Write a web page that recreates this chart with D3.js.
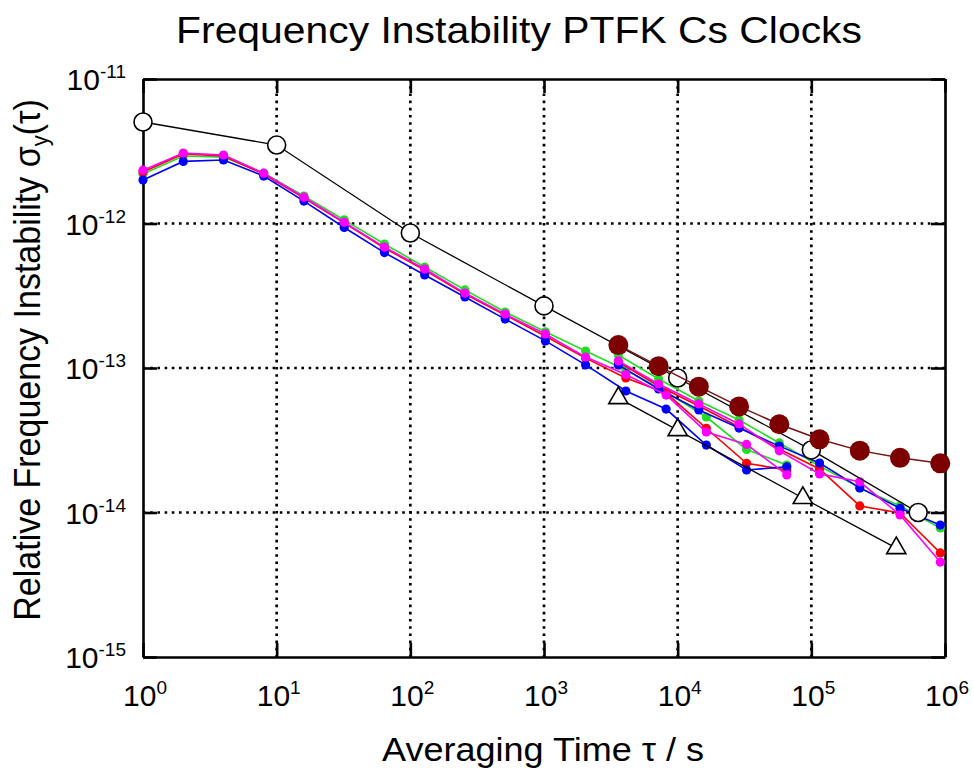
<!DOCTYPE html>
<html>
<head>
<meta charset="utf-8">
<script src="https://cdn.jsdelivr.net/npm/d3@7"></script>
<style>
html,body{margin:0;padding:0;background:#fff;}
svg{display:block;}
text{font-family:"Liberation Sans",Arial,sans-serif;fill:#000;}
</style>
</head>
<body>
<svg id="chart" width="973" height="777"></svg>
<script>
// ---------- DATA ----------
const xTicks = [1, 10, 100, 1000, 10000, 100000, 1000000];
const xTickExp = ["0", "1", "2", "3", "4", "5", "6"];
const yTicks = [1e-11, 1e-12, 1e-13, 1e-14, 1e-15];
const yTickExp = ["-11", "-12", "-13", "-14", "-15"];

// averaging times, short-term runs (powers of two)
const tauShort = [1, 2, 4, 8, 16, 32, 64, 128, 256, 512, 1024, 2048, 4096, 8192, 16384, 32768, 65536];
// averaging times, long-term runs (hourly data)
const tauLong = [3600, 7200, 14400, 28800, 57600, 115200, 230400, 460800, 921600];

const greenShort   = [2.20e-12, 2.93e-12, 2.88e-12, 2.23e-12, 1.55e-12, 1.06e-12, 7.21e-13, 5.00e-13, 3.47e-13, 2.44e-13, 1.78e-13, 1.31e-13, 9.68e-14, 6.82e-14, 4.58e-14, 2.73e-14, 2.13e-14];
const redShort     = [2.27e-12, 3.03e-12, 2.93e-12, 2.20e-12, 1.50e-12, 1.01e-12, 6.76e-13, 4.76e-13, 3.25e-13, 2.33e-13, 1.66e-13, 1.17e-13, 8.53e-14, 6.71e-14, 3.83e-14, 2.19e-14, 1.97e-14];
const blueShort    = [2.00e-12, 2.69e-12, 2.75e-12, 2.13e-12, 1.43e-12, 9.38e-13, 6.29e-13, 4.40e-13, 3.10e-13, 2.18e-13, 1.54e-13, 1.05e-13, 6.93e-14, 5.20e-14, 2.93e-14, 1.97e-14, 2.07e-14];
const magentaShort = [2.34e-12, 3.07e-12, 2.98e-12, 2.23e-12, 1.52e-12, 1.02e-12, 6.87e-13, 4.84e-13, 3.30e-13, 2.36e-13, 1.72e-13, 1.19e-13, 9.01e-14, 6.50e-14, 3.61e-14, 2.96e-14, 1.82e-14];

const greenLong   = [1.23e-13, 8.40e-14, 5.91e-14, 4.37e-14, 3.03e-14, 2.10e-14, 1.48e-14, 1.11e-14, 7.82e-15];
const redLong     = [1.10e-13, 7.50e-14, 5.46e-14, 3.91e-14, 2.75e-14, 2.00e-14, 1.11e-14, 9.93e-15, 5.25e-15];
const blueLong    = [1.05e-13, 7.16e-14, 5.12e-14, 3.84e-14, 2.88e-14, 2.20e-14, 1.48e-14, 1.07e-14, 8.19e-15];
const magentaLong = [1.12e-13, 7.75e-14, 5.64e-14, 4.10e-14, 2.67e-14, 1.85e-14, 1.63e-14, 9.62e-15, 4.54e-15];

// open circles
const specTau = [1, 10, 100, 1000, 10000, 100000, 630000];
const specVals = [5.04e-12, 3.49e-12, 8.59e-13, 2.69e-13, 8.53e-14, 2.71e-14, 1.00e-14];

// dark red filled circles
const darkTau = [3600, 7200, 14400, 28800, 57600, 115200, 230400, 460800, 921600];
const darkVals = [1.44e-13, 1.03e-13, 7.43e-14, 5.42e-14, 4.08e-14, 3.21e-14, 2.68e-14, 2.39e-14, 2.19e-14];

// open triangles
const triTau = [3600, 10000, 86400, 432000];
const triVals = [6.19e-14, 3.72e-14, 1.26e-14, 5.67e-15];

const titleText = "Frequency Instability PTFK Cs Clocks";
const xLabelText = "Averaging Time \u03C4 / s";

// ---------- LAYOUT ----------
const L = 143, R = 945, T = 79, B = 657;
const svg = d3.select("#chart");
const x = d3.scaleLog().domain([1, 1e6]).range([L, R]);
const y = d3.scaleLog().domain([1e-15, 1e-11]).range([B, T]);

// grid (dotted)
const grid = svg.append("g");
grid.selectAll("line.gx").data(xTicks.slice(1, -1)).join("line")
  .attr("x1", d => x(d)).attr("x2", d => x(d)).attr("y1", T).attr("y2", B)
  .attr("stroke", "#000").attr("stroke-width", 2.7).attr("stroke-dasharray", "2.6,4.6");
grid.selectAll("line.gy").data(yTicks.slice(1, -1)).join("line")
  .attr("x1", L).attr("x2", R).attr("y1", d => y(d)).attr("y2", d => y(d))
  .attr("stroke", "#000").attr("stroke-width", 2.7).attr("stroke-dasharray", "2.6,4.6");

// axes with inward ticks on all sides
const TK = 14;
function styleAxis(g) {
  g.selectAll("line").attr("stroke-width", 2.6);
  g.select(".domain").attr("stroke-width", 2.6);
}
svg.append("g").attr("transform", `translate(0,${B})`)
  .call(d3.axisBottom(x).tickValues(xTicks).tickSizeInner(-TK).tickSizeOuter(0).tickFormat("")).call(styleAxis);
svg.append("g").attr("transform", `translate(0,${T})`)
  .call(d3.axisTop(x).tickValues(xTicks).tickSizeInner(-TK).tickSizeOuter(0).tickFormat("")).call(styleAxis);
svg.append("g").attr("transform", `translate(${L},0)`)
  .call(d3.axisLeft(y).tickValues(yTicks).tickSizeInner(-TK).tickSizeOuter(0).tickFormat("")).call(styleAxis);
svg.append("g").attr("transform", `translate(${R},0)`)
  .call(d3.axisRight(y).tickValues(yTicks).tickSizeInner(-TK).tickSizeOuter(0).tickFormat("")).call(styleAxis);

// tick labels
function powLabel(px, py, exp, anchor) {
  const t = svg.append("text")
    .attr("transform", `translate(${px},${py})`)
    .attr("text-anchor", anchor).style("font-size", "30px");
  t.append("tspan").text("10");
  t.append("tspan").attr("dy", -12).style("font-size", "19px").text(exp);
}
xTicks.forEach((d, i) => powLabel(x(d) + 2, 706, xTickExp[i], "middle"));
yTicks.forEach((d, i) => powLabel(L - 17, y(d) + 11, yTickExp[i], "end"));

// title and axis labels
svg.append("text").attr("transform", `translate(519,43) scale(1.09,1)`)
  .attr("text-anchor", "middle").style("font-size", "37.5px").text(titleText);
svg.append("text").attr("transform", `translate(543,761) scale(1.06,1)`)
  .attr("text-anchor", "middle").style("font-size", "34px").text(xLabelText);
const yl = svg.append("text").attr("transform", `translate(40,360) scale(1.08,1) rotate(-90)`)
  .attr("text-anchor", "middle").style("font-size", "34px");
yl.append("tspan").text("Relative Frequency Instability \u03C3");
yl.append("tspan").attr("dy", 7).style("font-size", "22px").text("y");
yl.append("tspan").attr("dy", -7).text("(\u03C4)");

// ---------- SERIES ----------
const line = d3.line().x(d => x(d[0])).y(d => y(d[1]));
const zip = (a, b) => a.map((v, i) => [v, b[i]]);

const colored = [
  {c: "#22dd22", s: greenShort, l: greenLong},
  {c: "#ff0000", s: redShort, l: redLong},
  {c: "#0000ff", s: blueShort, l: blueLong},
  {c: "#ff00ff", s: magentaShort, l: magentaLong}
];
const plot = svg.append("g");
colored.forEach(sr => {
  [zip(tauShort, sr.s), zip(tauLong, sr.l)].forEach(pts => {
    plot.append("path").datum(pts).attr("d", line)
      .attr("fill", "none").attr("stroke", sr.c).attr("stroke-width", 1.6);
    plot.append("g").selectAll("circle").data(pts).join("circle")
      .attr("cx", d => x(d[0])).attr("cy", d => y(d[1])).attr("r", 4.6)
      .attr("fill", sr.c);
  });
});

// triangles
const triPts = zip(triTau, triVals);
plot.append("path").datum(triPts).attr("d", line)
  .attr("fill", "none").attr("stroke", "#000").attr("stroke-width", 1.3);
plot.append("g").selectAll("path").data(triPts).join("path")
  .attr("d", d3.symbol().type(d3.symbolTriangle).size(160))
  .attr("transform", d => `translate(${x(d[0])},${y(d[1])})`)
  .attr("fill", "#fff").attr("stroke", "#000").attr("stroke-width", 1.6);

// open circles
const specPts = zip(specTau, specVals);
plot.append("path").datum(specPts).attr("d", line)
  .attr("fill", "none").attr("stroke", "#000").attr("stroke-width", 1.3);
plot.append("g").selectAll("circle").data(specPts).join("circle")
  .attr("cx", d => x(d[0])).attr("cy", d => y(d[1])).attr("r", 9)
  .attr("fill", "#fff").attr("stroke", "#000").attr("stroke-width", 1.6);

// dark red filled circles
const darkPts = zip(darkTau, darkVals);
plot.append("path").datum(darkPts).attr("d", line)
  .attr("fill", "none").attr("stroke", "#7a1010").attr("stroke-width", 1.5);
plot.append("g").selectAll("circle").data(darkPts).join("circle")
  .attr("cx", d => x(d[0])).attr("cy", d => y(d[1])).attr("r", 10)
  .attr("fill", "#7d0000");
</script>
</body>
</html>
